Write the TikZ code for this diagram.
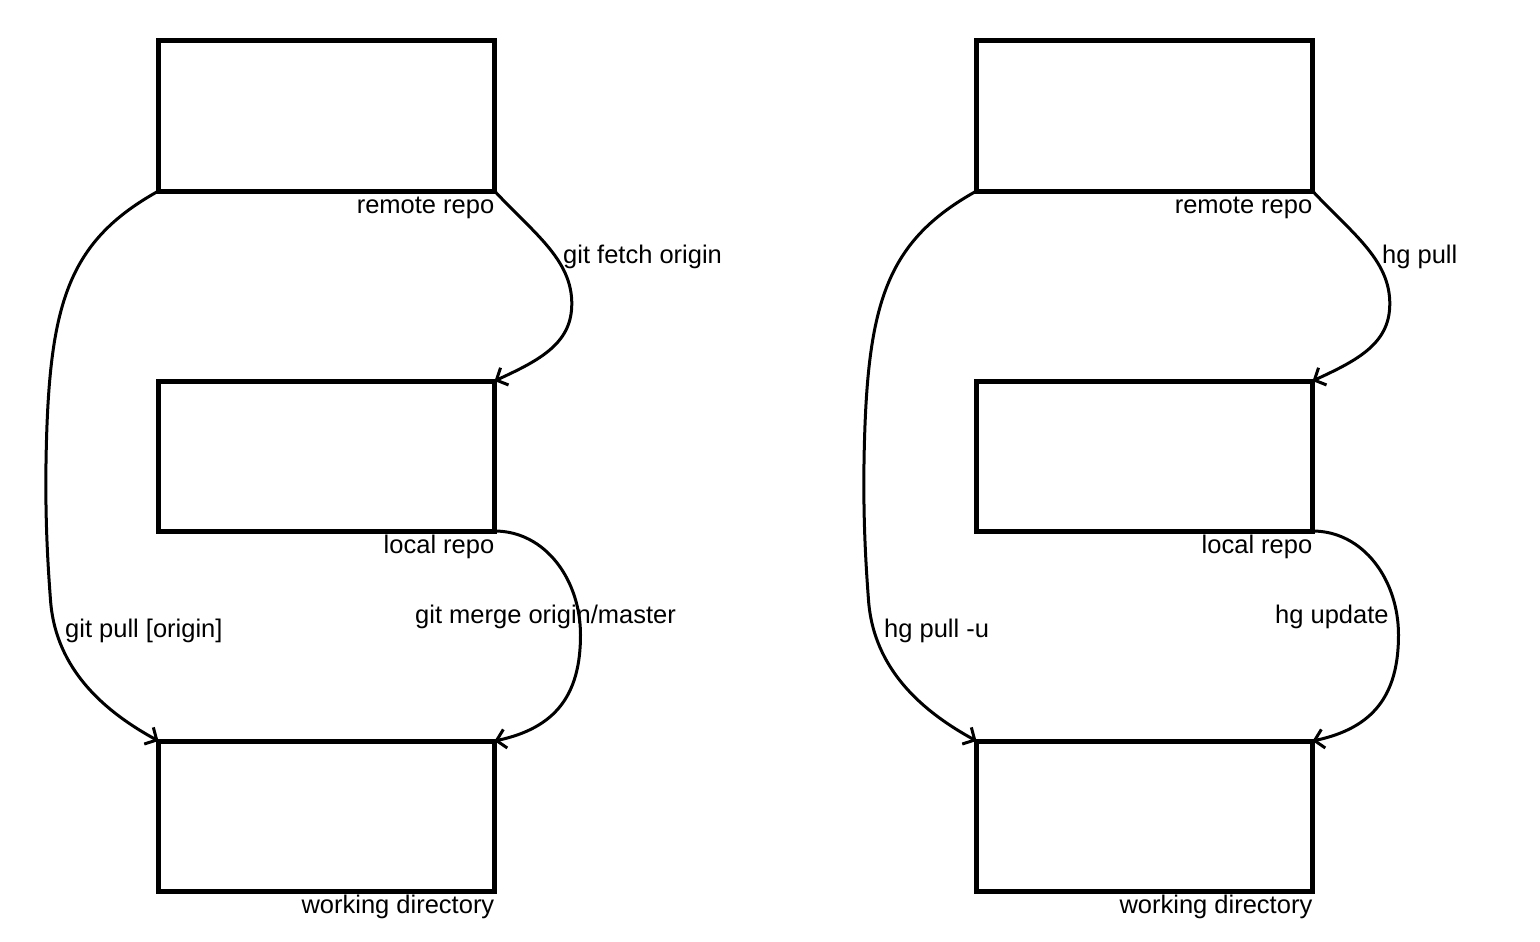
\documentclass[tikz,border=0pt]{standalone}
\usepackage{fontspec}
\setmainfont{Liberation Sans}
\usetikzlibrary{arrows.meta}
\begin{document}
\begin{tikzpicture}[x=1pt,y=-1pt,
  box/.style={draw=black,line width=5pt,minimum width=336pt,minimum height=150pt,inner sep=0pt,outer sep=0pt},
  lab/.style={inner sep=0pt,font=\fontsize{25.5}{30}\selectfont},
  conn/.style={line width=3pt,-{Straight Barb[length=9pt,width=19pt,line width=3pt]}}]
\useasboundingbox (0,0) rectangle (1540,942);
\fill[white] (0,0) rectangle (1540,942);
% left column
\node[box] (gr) at (326.5,116) {};
\node[box] (gl) at (326.5,456) {};
\node[box] (gw) at (326.5,816) {};
\node[lab,anchor=base east] (grl) at ([yshift=-22pt]gr.south east) {remote repo};
\node[lab,anchor=base east] (gll) at ([yshift=-22pt]gl.south east) {local repo};
\node[lab,anchor=base east] (gwl) at ([yshift=-22pt]gw.south east) {working directory};
\draw[conn] (gr.south east) .. controls +(41,44) and +(4,-48) .. ++(77,119)
  .. controls +(-3,36) and +(41,-19) .. (gl.north east);
\draw[conn] (gr.south west) .. controls +(-88,49) and +(4,-140) .. ++(-112,249)
  .. controls +(-2,70) and +(-3,-40) .. ++(4,160)
  .. controls +(5,70) and +(-53,-29) .. (gw.north west);
\draw[conn] (gl.south east) .. controls +(51,0) and +(0,-55) .. ++(86,104)
  .. controls +(0,60) and +(61,-13) .. (gw.north east);
\node[lab,anchor=base west] (gf) at (563,263) {git fetch origin};
\node[lab,anchor=base west] (gp) at (65,637) {git pull [origin]};
\node[lab,anchor=base west] (gm) at (415,623) {git merge origin/master};
% right column
\node[box] (hr) at (1144.5,116) {};
\node[box] (hl) at (1144.5,456) {};
\node[box] (hw) at (1144.5,816) {};
\node[lab,anchor=base east] (hrl) at ([yshift=-22pt]hr.south east) {remote repo};
\node[lab,anchor=base east] (hll) at ([yshift=-22pt]hl.south east) {local repo};
\node[lab,anchor=base east] (hwl) at ([yshift=-22pt]hw.south east) {working directory};
\draw[conn] (hr.south east) .. controls +(41,44) and +(4,-48) .. ++(77,119)
  .. controls +(-3,36) and +(41,-19) .. (hl.north east);
\draw[conn] (hr.south west) .. controls +(-88,49) and +(4,-140) .. ++(-112,249)
  .. controls +(-2,70) and +(-3,-40) .. ++(4,160)
  .. controls +(5,70) and +(-53,-29) .. (hw.north west);
\draw[conn] (hl.south east) .. controls +(51,0) and +(0,-55) .. ++(86,104)
  .. controls +(0,60) and +(61,-13) .. (hw.north east);
\node[lab,anchor=base west] (hf) at (1382,263) {hg pull};
\node[lab,anchor=base west] (hp) at (884,637) {hg pull -u};
\node[lab,anchor=base west] (hm) at (1275,623) {hg update};
\end{tikzpicture}
\end{document}
